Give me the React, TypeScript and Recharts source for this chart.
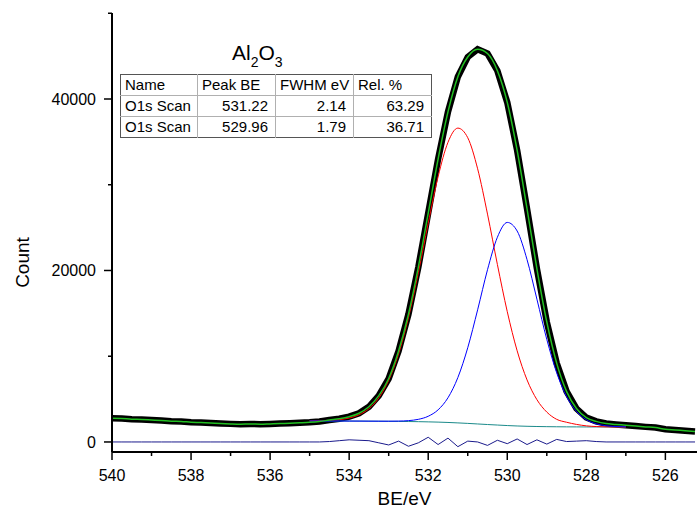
import { LineChart, Line, XAxis, YAxis } from "recharts";

const FONT = "Liberation Sans, Arial, sans-serif";

// binding energy grid (eV), high to low
const be = [
  540, 539.75, 539.5, 539.25, 539, 538.75, 538.5, 538.25, 538, 537.75,
  537.5, 537.25, 537, 536.75, 536.5, 536.25, 536, 535.75, 535.5, 535.25,
  535, 534.75, 534.5, 534.25, 534, 533.75, 533.5, 533.25, 533, 532.75,
  532.5, 532.25, 532, 531.75, 531.5, 531.25, 531, 530.75, 530.5, 530.25,
  530, 529.75, 529.5, 529.25, 529, 528.75, 528.5, 528.25, 528, 527.75,
  527.5, 527.25, 527, 526.75, 526.5, 526.25, 526, 525.75, 525.5, 525.25,
];

// measured counts
const raw = [
  2780, 2730, 2660, 2620, 2560, 2500, 2430, 2390, 2310, 2260,
  2200, 2160, 2110, 2080, 2100, 2070, 2110, 2150, 2180, 2230,
  2290, 2390, 2560, 2710, 2950, 3350, 4100, 5400, 7400, 10600,
  14900, 20400, 26700, 33000, 38500, 42600, 44900, 45800, 45300, 43300,
  39600, 34000, 27200, 20200, 14000, 9200, 5900, 3900, 2850, 2400,
  2150, 2050, 1950, 1850, 1760, 1680, 1480, 1400, 1310, 1230,
];

// residual (data - fit)
const resid = [
  0, 0, 0, 0, 0, 0, 0, 0, 0, 0,
  0, 0, 0, 0, 0, 0, 0, 0, 0, 0,
  0, 0, 50, 150, 250, 200, 150, -100, -350, 100,
  -500, -100, 550, -300, 450, -550, 100, 0, -400, 200,
  -200, 350, -300, 250, -250, 300, 50, 100, 150, 50,
  0, 0, 0, 0, 0, 0, 0, 0, 0, 0,
];

// fit window
const fitBe = [
  535, 534.75, 534.5, 534.25, 534, 533.75, 533.5, 533.25, 533, 532.75,
  532.5, 532.25, 532, 531.75, 531.5, 531.25, 531, 530.75, 530.5, 530.25,
  530, 529.75, 529.5, 529.25, 529, 528.75, 528.5, 528.25, 528, 527.75,
  527.5, 527.25, 527,
];
const shirley = [
  2450, 2450, 2448, 2445, 2440, 2435, 2428, 2420, 2410, 2398,
  2385, 2368, 2345, 2315, 2275, 2225, 2165, 2100, 2035, 1975,
  1915, 1865, 1828, 1803, 1785, 1772, 1763, 1757, 1752, 1750,
  1748, 1746, 1745,
];
const peak1 = [
  2460, 2476, 2513, 2600, 2787, 3167, 3882, 5138, 7185, 10255,
  14481, 19730, 25505, 30935, 34945, 36605, 35485, 31860, 26575, 20705,
  15193, 10634, 7239, 4932, 3484, 2640, 2300, 2050, 1880, 1800,
  1761, 1750, 1746,
];
const peak2 = [
  2450, 2450, 2448, 2445, 2440, 2435, 2429, 2424, 2422, 2435,
  2489, 2640, 2997, 3748, 5157, 7516, 10989, 15412, 20088, 23875,
  25605, 24605, 21268, 16653, 11965, 8071, 5299, 3567, 2599, 2113,
  1891, 1800, 1765,
];

const xTicks = [540, 539, 538, 537, 536, 535, 534, 533, 532, 531, 530, 529, 528, 527, 526];
const yTicks = [0, 10000, 20000, 30000, 40000, 50000];

const tableHead = ["Name", "Peak BE", "FWHM eV", "Rel. %"];
const tableRows = [
  ["O1s Scan", "531.22", "2.14", "63.29"],
  ["O1s Scan", "529.96", "1.79", "36.71"],
];
const colWidths = [77, 78, 78, 78];

const rows = be.map((x, i) => {
  const j = fitBe.indexOf(x);
  return {
    be: x,
    raw: raw[i],
    resid: resid[i],
    bg: j >= 0 ? shirley[j] : null,
    p1: j >= 0 ? peak1[j] : null,
    p2: j >= 0 ? peak2[j] : null,
  };
});

const XTick = (props: any) => {
  const { x, y, payload } = props;
  const major = Math.round(payload.value) % 2 === 0;
  return (
    <g>
      <line x1={x} x2={x} y1={y} y2={y + (major ? 8 : 4)} stroke="#000" strokeWidth={1.5} />
      {major && (
        <text x={x} y={y + 29} textAnchor="middle" fontSize={16} fontFamily={FONT} fill="#000">
          {payload.value}
        </text>
      )}
    </g>
  );
};

const YTick = (props: any) => {
  const { x, y, payload } = props;
  const major = payload.value % 20000 === 0;
  return (
    <g>
      <line x1={x} x2={x - (major ? 8 : 4)} y1={y} y2={y} stroke="#000" strokeWidth={1.5} />
      {major && (
        <text x={x - 16} y={y + 6} textAnchor="end" fontSize={16} fontFamily={FONT} fill="#000">
          {payload.value}
        </text>
      )}
    </g>
  );
};

const YLabel = (props: any) => {
  const { viewBox } = props;
  const cx = 29;
  const cy = viewBox.y + viewBox.height / 2 + 30;
  return (
    <text
      x={cx}
      y={cy}
      transform={`rotate(-90 ${cx} ${cy})`}
      textAnchor="middle"
      fontSize={19}
      fontFamily={FONT}
      fill="#000"
    >
      Count
    </text>
  );
};

const cell = (i: number, right: boolean): any => ({
  padding: right ? "0 7px 0 0" : "0 0 0 4px",
  textAlign: right ? "right" : "left",
  borderLeft: i === 0 ? "none" : "1px solid #b0b0b0",
  height: 20,
  lineHeight: "20px",
  whiteSpace: "nowrap",
  overflow: "hidden",
});

export default function App() {
  return (
    <div style={{ position: "absolute", left: 0, top: 0, width: 697, height: 517, background: "#fff" }}>
      <LineChart width={697} height={517} data={rows} margin={{ top: 13, right: 0, left: 0, bottom: 0 }}>
        <XAxis
          dataKey="be"
          type="number"
          domain={[525.2, 540]}
          reversed
          allowDataOverflow
          ticks={xTicks}
          interval={0}
          tickSize={0}
          tickMargin={0}
          tick={<XTick />}
          height={65}
          axisLine={{ stroke: "#000", strokeWidth: 2 }}
          label={{ value: "BE/eV", position: "insideBottom", offset: 12, fontSize: 19, fill: "#000", fontFamily: FONT }}
        />
        <XAxis
          xAxisId="top"
          orientation="top"
          dataKey="be"
          type="number"
          domain={[525.2, 540]}
          reversed
          allowDataOverflow
          height={0}
          tick={false}
          tickLine={false}
          axisLine={{ stroke: "#000", strokeWidth: 2 }}
        />
        <YAxis
          type="number"
          domain={[-1170, 50030]}
          allowDataOverflow
          ticks={yTicks}
          interval={0}
          tickSize={0}
          tickMargin={0}
          tick={<YTick />}
          width={112}
          axisLine={{ stroke: "#000", strokeWidth: 2 }}
          label={<YLabel />}
        />
        <Line dataKey="raw" type="linear" stroke="#000" strokeWidth={6.5} dot={false} activeDot={false} isAnimationActive={false} />
        <Line dataKey="bg" type="monotone" stroke="#1a8a8a" strokeWidth={1} dot={false} activeDot={false} isAnimationActive={false} />
        <Line dataKey="p1" type="monotone" stroke="#ff0000" strokeWidth={1} dot={false} activeDot={false} isAnimationActive={false} />
        <Line dataKey="p2" type="monotone" stroke="#0000ff" strokeWidth={1} dot={false} activeDot={false} isAnimationActive={false} />
        <Line dataKey="raw" type="monotone" stroke="#22c022" strokeWidth={1.5} dot={false} activeDot={false} isAnimationActive={false} />
        <Line dataKey="resid" type="linear" stroke="#1a1a8c" strokeWidth={1} dot={false} activeDot={false} isAnimationActive={false} />
      </LineChart>

      <div style={{ position: "absolute", left: 232, top: 41, fontFamily: FONT, fontSize: 21, lineHeight: "24px", color: "#000", whiteSpace: "nowrap" }}>
        Al<span style={{ fontSize: 14, position: "relative", top: 7 }}>2</span>O
        <span style={{ fontSize: 14, position: "relative", top: 7 }}>3</span>
      </div>

      <table
        style={{
          position: "absolute",
          left: 120,
          top: 74,
          width: 311,
          borderCollapse: "collapse",
          border: "1px solid #555",
          fontFamily: FONT,
          fontSize: 15,
          color: "#000",
          background: "#fff",
          tableLayout: "fixed",
        }}
      >
        <colgroup>
          {colWidths.map((w, i) => (
            <col key={i} style={{ width: w }} />
          ))}
        </colgroup>
        <tbody>
          <tr style={{ borderBottom: "1px solid #b0b0b0" }}>
            {tableHead.map((h, i) => (
              <td key={h} style={cell(i, false)}>{h}</td>
            ))}
          </tr>
          {tableRows.map((r, k) => (
            <tr key={k} style={{ borderBottom: k === 0 ? "1px solid #b0b0b0" : "none" }}>
              {r.map((v, i) => (
                <td key={i} style={cell(i, i > 0)}>{v}</td>
              ))}
            </tr>
          ))}
        </tbody>
      </table>
    </div>
  );
}
